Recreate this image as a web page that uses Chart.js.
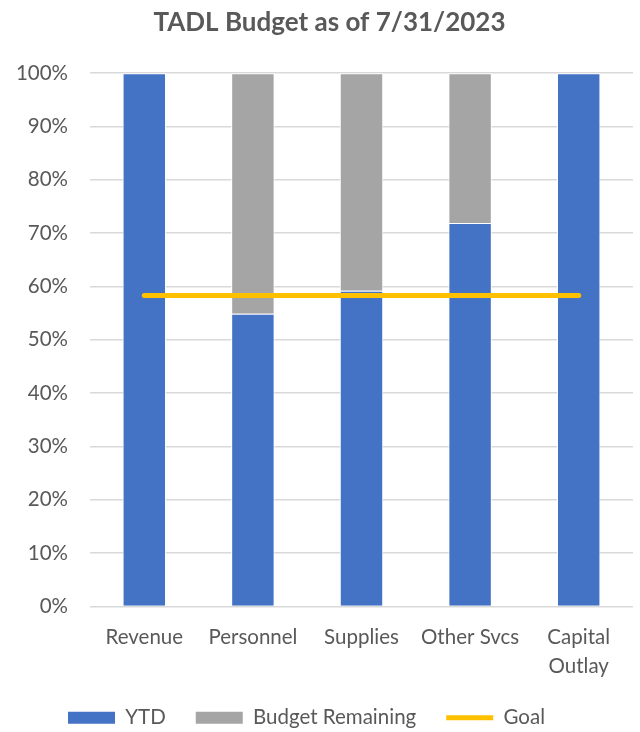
<!DOCTYPE html>
<html><head><meta charset="utf-8">
<script src="https://cdn.jsdelivr.net/npm/chart.js@4"></script>
<style>html,body{margin:0;padding:0;background:#fff;}#wrap{width:640px;height:732px;}</style>
</head><body><div id="wrap"><canvas id="c" width="640" height="732"></canvas></div>
<script>
const categories = ['Revenue', 'Personnel', 'Supplies', 'Other Svcs', ['Capital', 'Outlay']];
const ytdValues = [100, 54.9, 59.2, 71.9, 100];
const remainingValues = [0, 45.1, 40.8, 28.1, 0];
const goalValues = [58.3, 58.3, 58.3, 58.3, 58.3];
const yTicks = [0, 10, 20, 30, 40, 50, 60, 70, 80, 90, 100];

const FONT = 'Lato, "Open Sans", sans-serif';
const TXT = '#595959';

const shiftPlugin = {
  id: 'shift',
  afterLayout(chart) {
    if (chart.titleBlock) { chart.titleBlock.left += 26; }
    if (chart.legend) { chart.legend.left -= 20; }
    if (chart.scales.x) { chart.scales.x.bottom += 20; }
  }
};

new Chart(document.getElementById('c'), {
  data: {
    labels: categories,
    datasets: [
      { type: 'bar', label: 'YTD', data: ytdValues, backgroundColor: '#4472C4', borderColor: '#ffffff', borderWidth: 1, order: 1, stack: 's', pointStyle: 'rect' },
      { type: 'bar', label: 'Budget Remaining', data: remainingValues, backgroundColor: '#A5A5A5', borderColor: '#ffffff', borderWidth: 1, order: 1, stack: 's', pointStyle: 'rect' },
      { type: 'line', label: 'Goal', data: goalValues, borderColor: '#FFC000', backgroundColor: '#FFC000', borderWidth: 5, pointRadius: 0, pointHoverRadius: 0, borderCapStyle: 'round', order: 0, stack: 'g', pointStyle: 'line' }
    ]
  },
  plugins: [shiftPlugin],
  options: {
    responsive: false,
    animation: false,
    layout: { padding: { left: 0, right: 7, top: 0, bottom: -6 } },
    datasets: { bar: { barPercentage: 0.4, categoryPercentage: 1 } },
    plugins: {
      tooltip: { enabled: false },
      title: { display: true, text: 'TADL Budget as of 7/31/2023', color: TXT, font: { family: FONT, size: 26, weight: 'bold' }, padding: { top: 7, bottom: 35 } },
      legend: {
        position: 'bottom',
        labels: {
          color: TXT, font: { family: FONT, size: 20.5 },
          usePointStyle: true, pointStyleWidth: 47, boxHeight: 12, padding: 30,
          sort: (a, b) => a.datasetIndex - b.datasetIndex,
          generateLabels: (chart) => chart.data.datasets.map((ds, i) => ({
            text: ds.label, datasetIndex: i, hidden: false,
            fillStyle: ds.backgroundColor, strokeStyle: ds.type === 'line' ? ds.borderColor : ds.backgroundColor,
            lineWidth: ds.type === 'line' ? 5 : 0, pointStyle: ds.pointStyle, lineCap: 'butt', fontColor: TXT
          }))
        }
      }
    },
    scales: {
      x: {
        stacked: true,
        afterFit: (s) => { s.height = 71; },
        grid: { display: false },
        border: { display: false },
        ticks: { color: TXT, font: { family: FONT, size: 20.5, lineHeight: 1.4 }, padding: 9, maxRotation: 0, autoSkip: false }
      },
      y: {
        stacked: true, min: 0, max: 100,
        afterBuildTicks: (s) => { s.ticks = yTicks.map(v => ({ value: v })); },
        afterFit: (s) => { s.width = 90; },
        grid: { color: '#D9D9D9', lineWidth: 1.5, drawTicks: false },
        border: { display: false },
        ticks: { color: TXT, font: { family: FONT, size: 20.5 }, padding: 22, callback: (v) => v + '%' }
      }
    }
  }
});
</script></body></html>
